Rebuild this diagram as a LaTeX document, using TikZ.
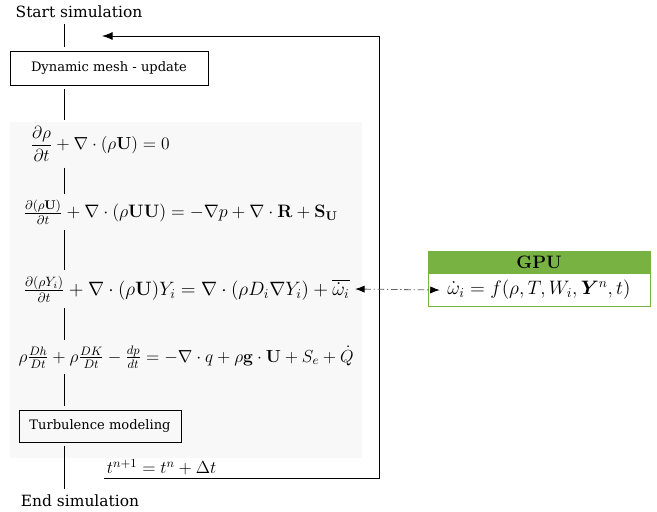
\RequirePackage{fix-cm}
\documentclass[tikz,border=0pt]{standalone}
\usepackage{amsmath,amssymb,bm}
\usepackage[no-math]{fontspec}
\setmainfont{DejaVu Serif}
\usetikzlibrary{positioning,calc,backgrounds,arrows.meta}
\definecolor{gpugreen}{HTML}{77B243}
\definecolor{panelgray}{HTML}{F8F8F8}

\begin{document}
\begin{tikzpicture}[
    x=0.75pt, y=-0.75pt,
    label/.style={inner sep=1pt, font=\fontsize{11.6}{14}\selectfont},
    box/.style={draw, line width=0.6pt, inner sep=0pt, font=\fontsize{9.8}{12}\selectfont},
    eqn/.style={inner sep=1pt, font=\fontsize{13.1}{16}\selectfont, anchor=west},
    link/.style={line width=0.6pt, shorten <=3pt, shorten >=3pt},
    loop/.style={-{Latex[length=2.8mm]}, line width=0.6pt},
    gpuflow/.style={{Latex[length=2.5mm,color=black]}-{Latex[length=2.5mm,color=black]}, dash pattern=on 5pt off 2pt on 1pt off 2pt, line width=0.6pt, draw=black!60},
    gpuhead/.style={fill=gpugreen, draw=gpugreen, minimum width=166.5pt, minimum height=16.5pt, inner sep=0pt, font=\fontsize{13.5}{16}\selectfont},
    gpubody/.style={fill=white, draw=gpugreen, minimum width=166.5pt, minimum height=24.75pt, inner sep=0pt, font=\fontsize{14.6}{17}\selectfont},
]
\useasboundingbox (0,0) rectangle (657,511);
\coordinate (axis) at (64,0);

% solver loop
\node[label] (start) at (79,12) {Start simulation};
\node[box, minimum width=148.5pt, minimum height=25.5pt] (mesh) at (109,68) {Dynamic mesh - update};
\node[eqn] (eq1) at (29,144) {$\dfrac{\partial\rho}{\partial t}+\nabla\cdot(\rho\mathbf{U})=0$};
\node[eqn, font=\fontsize{13.5}{16}\selectfont] (eq2) at (22,212) {$\frac{\partial(\rho\mathbf{U})}{\partial t}+\nabla\cdot(\rho\mathbf{U}\mathbf{U})=-\nabla p+\nabla\cdot\mathbf{R}+\mathbf{S}_{\mathbf{U}}$};
\node[eqn, font=\fontsize{14.5}{17}\selectfont] (eq3) at (22,289) {$\frac{\partial(\rho Y_i)}{\partial t}+\nabla\cdot(\rho\mathbf{U})Y_i=\nabla\cdot(\rho D_i\nabla Y_i)+\overline{\dot{\omega}_i}$};
\node[eqn] (eq4) at (17,357) {$\rho\frac{Dh}{Dt}+\rho\frac{DK}{Dt}-\frac{dp}{dt}=-\nabla\cdot q+\rho\mathbf{g}\cdot\mathbf{U}+S_e+\dot{Q}$};
\node[box, minimum width=121.5pt, minimum height=24pt] (turb) at (100,426) {Turbulence modeling};
\node[label] (end) at (80,501) {End simulation};
\node[eqn, anchor=south west, inner sep=2pt] (dt) at (104,478) {$t^{n+1}=t^{n}+\Delta t$};

\begin{scope}[on background layer]
  \fill[panelgray] (10,122) rectangle (362,458);
\end{scope}

\draw[link] (start.south -| axis) -- (mesh.north -| axis);
\draw[link] (mesh.south -| axis) -- (eq1.north -| axis);
\draw[link] (eq1.south -| axis) -- (eq2.north -| axis);
\draw[link] (eq2.south -| axis) -- (eq3.north -| axis);
\draw[link] (eq3.south -| axis) -- (eq4.north -| axis);
\draw[link] (eq4.south -| axis) -- (turb.north -| axis);
\draw[link] (turb.south -| axis) -- (end.north -| axis);

% time step loop back
\coordinate (ret) at (379,478);
\coordinate (back) at (102,36);
\draw[loop] (dt.south west) -- (ret) |- (back);

% GPU source terms
\node[gpuhead] (gpu) at (539,262) {$\mathbf{GPU}$};
\node[gpubody, below=0pt of gpu] (rate) {$\dot{\omega}_i=f(\rho,T,W_i,\boldsymbol{Y}^{n},t)$};
\draw[gpuflow] ([xshift=3pt]eq3.east) -- ([xshift=9pt]rate.west);
\end{tikzpicture}
\end{document}
